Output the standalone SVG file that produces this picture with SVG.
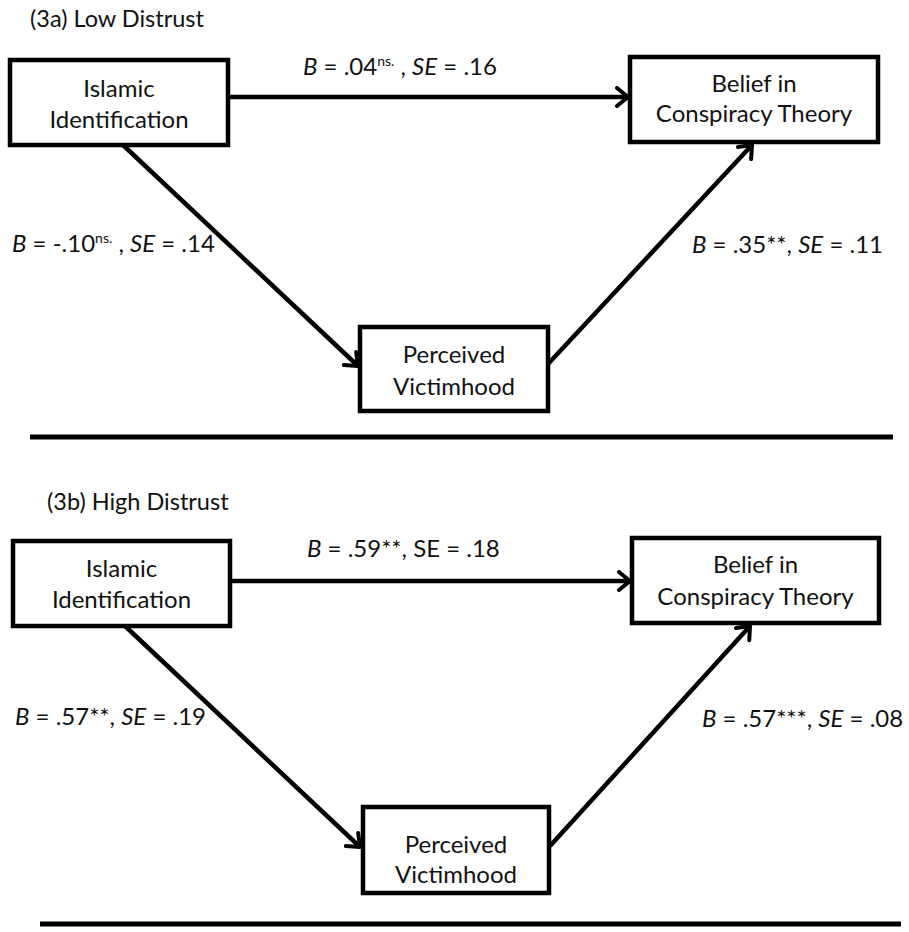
<svg xmlns="http://www.w3.org/2000/svg" width="909" height="932" viewBox="0 0 909 932">
<style>
.box{fill:#fff;stroke:#000;stroke-width:4.5}
.node{font-family:Lato,"Open Sans","Liberation Sans",sans-serif;font-size:24px;fill:#111;text-anchor:middle}
.lbl{font-family:Lato,"Open Sans","Liberation Sans",sans-serif;font-size:24px;fill:#111}
.ttl{font-family:Lato,"Open Sans","Liberation Sans",sans-serif;font-size:23.5px;fill:#111}
.it{font-style:italic}
.sup{font-size:14px}
.conn{stroke:#000;stroke-width:4.5;fill:none}
.rule{stroke:#000;stroke-width:5}
</style>
<defs>
<marker id="arr" markerUnits="userSpaceOnUse" viewBox="0 0 16 22" refX="14" refY="11" markerWidth="16" markerHeight="22" orient="auto">
<path d="M3,2 L14,11 L3,20" fill="none" stroke="#000" stroke-width="4" stroke-linecap="round" stroke-linejoin="round"/>
</marker>
</defs>
<rect width="909" height="932" fill="#fff"/>

<!-- Section a -->
<text class="ttl" x="30" y="27">(3a) Low Distrust</text>
<g id="connectors-a">
<line class="conn" x1="228" y1="97" x2="628" y2="97" marker-end="url(#arr)"/>
<line class="conn" x1="123" y1="145" x2="358" y2="366" marker-end="url(#arr)"/>
<line class="conn" x1="548" y1="364" x2="752" y2="145" marker-end="url(#arr)"/>
</g>
<g id="islamic-a">
<rect class="box" x="10" y="60" width="218" height="85"/>
<text class="node" x="119" y="97">Islamic</text>
<text class="node" x="119" y="128">Identification</text>
</g>
<g id="belief-a">
<rect class="box" x="630" y="57" width="248" height="85"/>
<text class="node" x="754" y="92">Belief in</text>
<text class="node" x="754" y="122">Conspiracy Theory</text>
</g>
<g id="victim-a">
<rect class="box" x="360" y="327" width="188" height="84"/>
<text class="node" x="454" y="363">Perceived</text>
<text class="node" x="454" y="395">Victimhood</text>
</g>
<text class="lbl" x="303" y="75"><tspan class="it">B</tspan> = .04<tspan class="sup" dy="-9">ns.</tspan><tspan dy="9"> , </tspan><tspan class="it">SE</tspan> = .16</text>
<text class="lbl" x="12" y="252"><tspan class="it">B</tspan> = -.10<tspan class="sup" dy="-9">ns.</tspan><tspan dy="9"> , </tspan><tspan class="it">SE</tspan> = .14</text>
<text class="lbl" x="692" y="253"><tspan class="it">B</tspan> = .35**, <tspan class="it">SE</tspan> = .11</text>
<line class="rule" x1="30" y1="437" x2="893" y2="437"/>

<!-- Section b -->
<text class="ttl" x="47" y="510">(3b) High Distrust</text>
<g id="connectors-b">
<line class="conn" x1="230" y1="581" x2="630" y2="581" marker-end="url(#arr)"/>
<line class="conn" x1="125" y1="626" x2="360" y2="847" marker-end="url(#arr)"/>
<line class="conn" x1="550" y1="846" x2="750" y2="626" marker-end="url(#arr)"/>
</g>
<g id="islamic-b">
<rect class="box" x="13" y="541" width="217" height="85"/>
<text class="node" x="121.5" y="577">Islamic</text>
<text class="node" x="121.5" y="608">Identification</text>
</g>
<g id="belief-b">
<rect class="box" x="632" y="538" width="247" height="85"/>
<text class="node" x="755.5" y="573">Belief in</text>
<text class="node" x="755.5" y="605">Conspiracy Theory</text>
</g>
<g id="victim-b">
<rect class="box" x="363" y="807" width="186" height="86"/>
<text class="node" x="456" y="853">Perceived</text>
<text class="node" x="456" y="883">Victimhood</text>
</g>
<text class="lbl" x="307" y="557"><tspan class="it">B</tspan> = .59**, SE = .18</text>
<text class="lbl" x="15" y="725"><tspan class="it">B</tspan> = .57**, <tspan class="it">SE</tspan> = .19</text>
<text class="lbl" x="702" y="727"><tspan class="it">B</tspan> = .57***, <tspan class="it">SE</tspan> = .08</text>
<line class="rule" x1="40" y1="924" x2="901" y2="924"/>
</svg>
